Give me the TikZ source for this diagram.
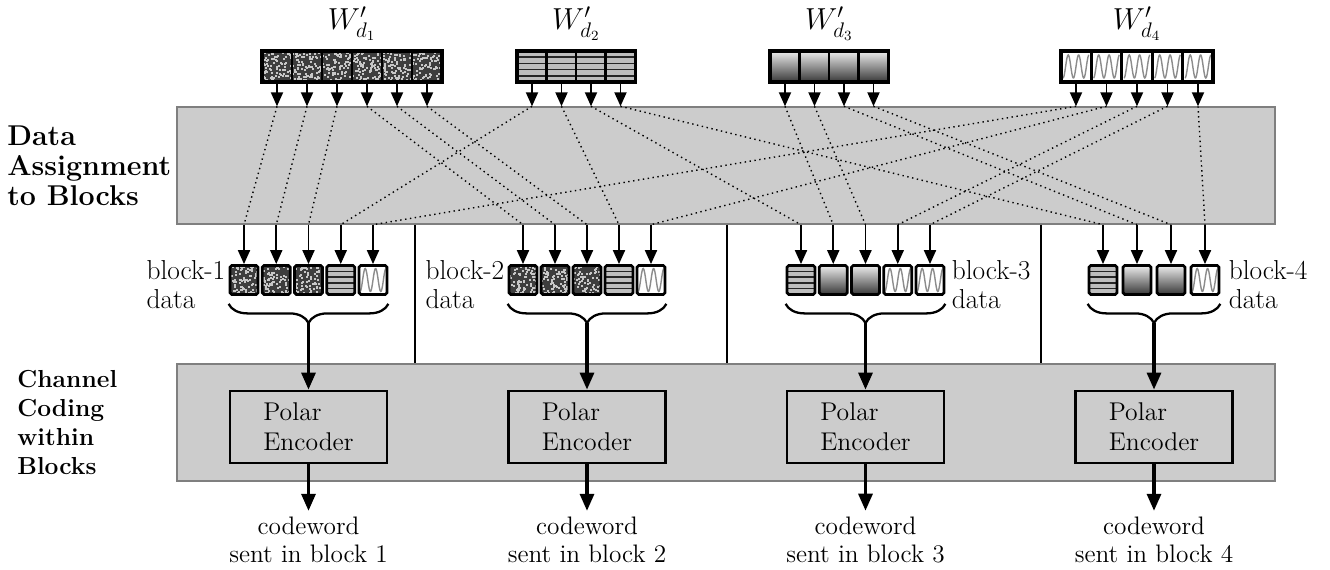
\documentclass[tikz,border=0pt]{standalone}
\usepackage{tikz}
\usetikzlibrary{arrows.meta,positioning,calc,decorations.pathreplacing}
\definecolor{stagegrey}{HTML}{CCCCCC}
\definecolor{stageedge}{HTML}{7F7F7F}
\definecolor{specklegrey}{HTML}{3E3E3E}
\definecolor{stripegrey}{HTML}{BEBEBE}
\definecolor{wavegrey}{HTML}{8C8C8C}

\begin{document}
\pgfmathsetseed{7}
\begin{tikzpicture}[
  stage/.style={draw=stageedge,fill=stagegrey,line width=0.8pt,
                minimum width=21.96cm,minimum height=2.34cm},
  sidelabel/.style={anchor=west,align=left,inner sep=0pt},
  topcell/.style={draw,line width=1.4pt,outer sep=0pt,inner sep=0pt,
                  minimum width=0.6cm,minimum height=0.62cm},
  datcell/.style={draw,line width=1.6pt,rounded corners=1pt,inner sep=0pt,
                  minimum width=0.56cm,minimum height=0.58cm},
  specklefill/.style={fill=specklegrey,path picture={
      \foreach \k in {1,...,95}
        \fill[white!78!black,sharp corners]
          ($(path picture bounding box.south west)+(rnd*0.62,rnd*0.62)$) rectangle +(0.04,0.04);}},
  stripefill/.style={fill=stripegrey,path picture={
      \foreach \k in {1,...,4}
        \draw[black!85,line width=0.9pt,sharp corners]
          ($(path picture bounding box.south west)!\k/5!(path picture bounding box.north west)$) -- +(1,0);}},
  fadefill/.style={top color=gray!15,bottom color=black!78},
  wavefill/.style={fill=white,path picture={
      \draw[wavegrey,line width=0.8pt,sharp corners,shift={(path picture bounding box.center)}]
        plot[domain=-0.26:0.26,samples=60,smooth] (\x,{0.23*sin(\x*1731)});}},
  smallarr/.style={-{Triangle[length=2.8mm,width=2.4mm]},line width=1.1pt},
  bigarr/.style={-{Triangle[length=3.4mm,width=2.8mm]},line width=1.8pt},
  dotline/.style={dotted,line width=0.8pt,black},
  sepline/.style={line width=0.8pt},
  brc/.style={decorate,decoration={brace,mirror,amplitude=0.38cm},line width=1.3pt},
  encoder/.style={draw,line width=1.6pt,minimum width=3.14cm,minimum height=1.44cm,
                  align=left,font=\fontsize{14.6}{17}\selectfont},
  blocklabel/.style={align=left,inner sep=0pt,font=\fontsize{15.6}{16.5}\selectfont},
  outlabel/.style={align=center,font=\fontsize{14.4}{16}\selectfont},
  wlabel/.style={font=\fontsize{16.5}{18}\selectfont}
]
\useasboundingbox (0,0) rectangle (26.6,11.4);

% Two stages
\node[stage] (box1) at (14.52,8.09) {};
\node[stage] (box2) at (14.52,2.95) {};
\node[sidelabel,font=\fontsize{16.3}{17.2}\selectfont\bfseries] (lab1) at (0.14,8.09)
  {Data\\Assignment\\to Blocks};
\node[sidelabel,font=\fontsize{14}{16.5}\selectfont\bfseries] (lab2) at (0.34,2.95)
  {Channel\\Coding\\within\\Blocks};

% Separators between blocks
\foreach \x in {8.30,14.54,20.82}
  \draw[sepline] (\x,0 |- box1.south) -- (\x,0 |- box2.north);

% Data streams W'
\foreach \i in {1,...,6} \node[topcell,specklefill] (w1c\i) at ({5.54+0.6*(\i-1)},10.07) {};
\foreach \i in {1,...,4} \node[topcell,stripefill] (w2c\i) at ({10.64+0.59*(\i-1)},10.07) {};
\foreach \i in {1,...,4} \node[topcell,fadefill] (w3c\i) at ({15.70+0.59*(\i-1)},10.07) {};
\foreach \i in {1,...,5} \node[topcell,wavefill] (w4c\i) at ({21.52+0.61*(\i-1)},10.07) {};
\draw[line width=1.8pt] (w1c1.north west) rectangle (w1c6.south east);
\draw[line width=1.8pt] (w2c1.north west) rectangle (w2c4.south east);
\draw[line width=1.8pt] (w3c1.north west) rectangle (w3c4.south east);
\draw[line width=1.8pt] (w4c1.north west) rectangle (w4c5.south east);
\node[wlabel] (wl1) at ([yshift=0.55cm]$(w1c1.north)!.5!(w1c6.north)$) {$W'_{d_1}$};
\node[wlabel] (wl2) at ([yshift=0.55cm]$(w2c1.north)!.5!(w2c4.north)$) {$W'_{d_2}$};
\node[wlabel] (wl3) at ([yshift=0.55cm]$(w3c1.north)!.5!(w3c4.north)$) {$W'_{d_3}$};
\node[wlabel] (wl4) at ([yshift=0.55cm]$(w4c1.north)!.5!(w4c5.north)$) {$W'_{d_4}$};

% Block data
\foreach \st [count=\i] in {specklefill,specklefill,specklefill,stripefill,wavefill}
  \node[datcell,\st] (b1c\i) at ({4.88+0.645*(\i-1)},5.80) {};
\foreach \st [count=\i] in {specklefill,specklefill,specklefill,stripefill,wavefill}
  \node[datcell,\st] (b2c\i) at ({10.46+0.64*(\i-1)},5.80) {};
\foreach \st [count=\i] in {stripefill,fadefill,fadefill,wavefill,wavefill}
  \node[datcell,\st] (b3c\i) at ({16.02+0.645*(\i-1)},5.80) {};
\foreach \st [count=\i] in {stripefill,fadefill,fadefill,wavefill}
  \node[datcell,\st] (b4c\i) at ({22.06+0.68*(\i-1)},5.80) {};
\node[blocklabel,left=0.06cm of b1c1,yshift=-0.1cm] (bl1) {block-1\\data};
\node[blocklabel,left=0.06cm of b2c1,yshift=-0.1cm] (bl2) {block-2\\data};
\node[blocklabel,right=0.12cm of b3c5,yshift=-0.1cm] (bl3) {block-3\\data};
\node[blocklabel,right=0.16cm of b4c4,yshift=-0.1cm] (bl4) {block-4\\data};

% Assignment of the pieces
\foreach \s/\t in {w1c1/b1c1,w1c2/b1c2,w1c3/b1c3,w1c4/b2c1,w1c5/b2c2,w1c6/b2c3,
                   w2c1/b1c4,w2c2/b2c4,w2c3/b3c1,w2c4/b4c1,
                   w3c1/b3c2,w3c2/b3c3,w3c3/b4c2,w3c4/b4c3,
                   w4c1/b1c5,w4c2/b2c5,w4c3/b3c4,w4c4/b3c5,w4c5/b4c4}{
  \draw[smallarr] (\s) -- (\s |- box1.north);
  \draw[dotline] (\s |- box1.north) -- (\t |- box1.south);
  \draw[smallarr] (\t |- box1.south) -- (\t);
}

% Braces and encoders
\draw[brc] ([yshift=-0.16cm]b1c1.south west) -- ([yshift=-0.16cm]b1c5.south east);
\draw[brc] ([yshift=-0.16cm]b2c1.south west) -- ([yshift=-0.16cm]b2c5.south east);
\draw[brc] ([yshift=-0.16cm]b3c1.south west) -- ([yshift=-0.16cm]b3c5.south east);
\draw[brc] ([yshift=-0.16cm]b4c1.south west) -- ([yshift=-0.16cm]b4c4.south east);
\coordinate (t1) at ([yshift=-0.54cm]$(b1c1.south west)!.5!(b1c5.south east)$);
\coordinate (t2) at ([yshift=-0.54cm]$(b2c1.south west)!.5!(b2c5.south east)$);
\coordinate (t3) at ([yshift=-0.54cm]$(b3c1.south west)!.5!(b3c5.south east)$);
\coordinate (t4) at ([yshift=-0.54cm]$(b4c1.south west)!.5!(b4c4.south east)$);

\foreach \n in {1,...,4}{
  \node[encoder] (enc\n) at (t\n |- 0,2.86) {Polar\\Encoder};
  \node[outlabel] (cw\n) at (t\n |- 0,0.60) {codeword\\sent in block \n};
  \draw[bigarr] (t\n) -- (enc\n);
  \draw[bigarr] (enc\n) -- (cw\n);
}

\end{tikzpicture}
\end{document}
